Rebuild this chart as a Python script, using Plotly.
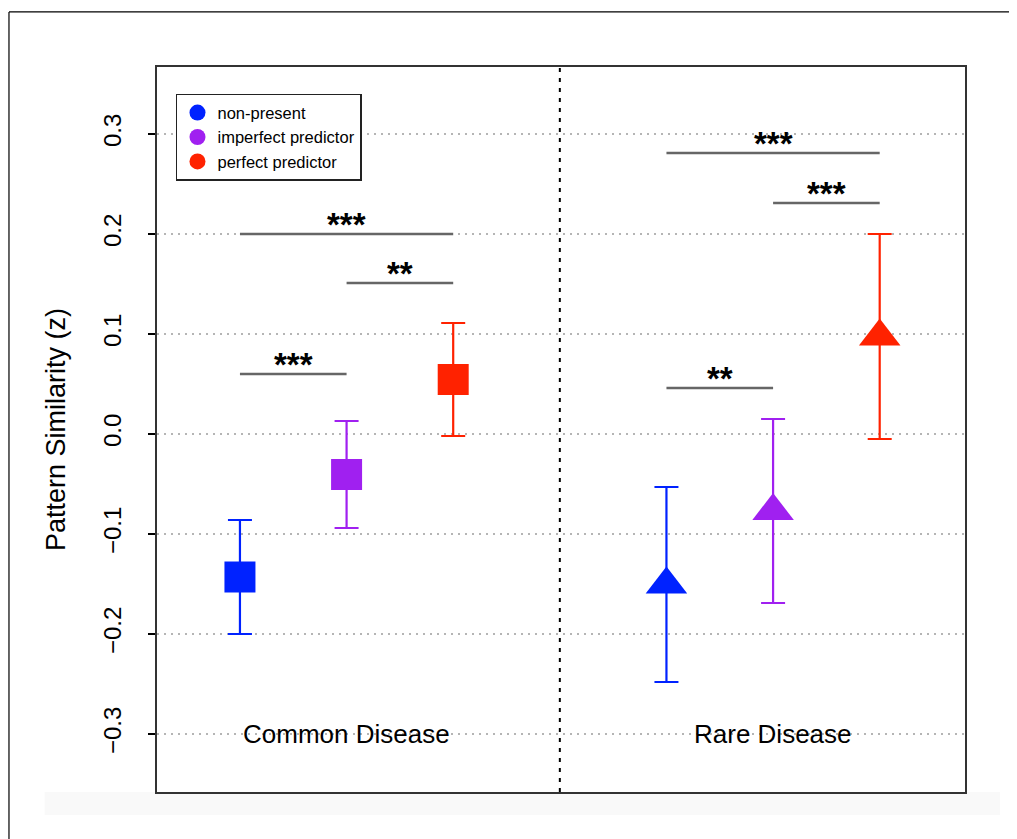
import plotly.graph_objects as go

# ---- data ----
groups = ["non-present", "imperfect predictor", "perfect predictor"]
colors = ["#0022FF", "#A020F0", "#FF2200"]

common_x = [1, 2, 3]
common_mean = [-0.143, -0.0405, 0.0545]
common_err = [0.057, 0.0535, 0.0565]

rare_x = [5, 6, 7]
rare_mean = [-0.1505, -0.077, 0.0975]
rare_err = [0.0975, 0.092, 0.1025]

divider_x = 4
condition_labels = ["Common Disease", "Rare Disease"]
condition_label_x = [2, 6]
condition_label_y = -0.3

# significance brackets: (x start, x end, y, label)
sig_x0 = [1, 2, 1, 5, 6, 5]
sig_x1 = [2, 3, 3, 6, 7, 7]
sig_y = [0.060, 0.151, 0.200, 0.046, 0.231, 0.281]
sig_label = ["***", "**", "***", "**", "***", "***"]

y_ticks = [-0.3, -0.2, -0.1, 0.0, 0.1, 0.2, 0.3]

FONT = "Liberation Sans, Arial, sans-serif"

fig = go.Figure()

# significance lines
for x0, x1, y in zip(sig_x0, sig_x1, sig_y):
    fig.add_trace(go.Scatter(x=[x0, x1], y=[y, y], mode="lines",
                             line=dict(color="#666666", width=2.5),
                             showlegend=False, hoverinfo="skip"))

# common disease: squares
for i in range(3):
    fig.add_trace(go.Scatter(
        x=[common_x[i]], y=[common_mean[i]], mode="markers",
        marker=dict(symbol="square", size=31, color=colors[i], line=dict(width=0)),
        error_y=dict(type="data", array=[common_err[i]], color=colors[i],
                     thickness=2.2, width=12),
        showlegend=False))

# rare disease: triangles
for i in range(3):
    fig.add_trace(go.Scatter(
        x=[rare_x[i]], y=[rare_mean[i]], mode="markers",
        marker=dict(symbol="triangle-up", size=36, color=colors[i], line=dict(width=0)),
        error_y=dict(type="data", array=[rare_err[i]], color=colors[i],
                     thickness=2.2, width=12),
        showlegend=False))

# legend entries (circles)
for i in range(3):
    fig.add_trace(go.Scatter(
        x=[None], y=[None], mode="markers", name=groups[i],
        marker=dict(symbol="circle", size=16, color=colors[i]),
        showlegend=True))

annotations = []
for x0, x1, y, lab in zip(sig_x0, sig_x1, sig_y, sig_label):
    annotations.append(dict(x=(x0 + x1) / 2, y=y, xref="x", yref="y",
                            text="<b>" + lab + "</b>", showarrow=False, yanchor="bottom",
                            yshift=-11,
                            font=dict(family=FONT, size=33, color="black")))
for lab, x in zip(condition_labels, condition_label_x):
    annotations.append(dict(x=x, y=condition_label_y, xref="x", yref="y",
                            text=lab, showarrow=False, yanchor="middle",
                            font=dict(family=FONT, size=26, color="black")))

shapes = [
    # divider between conditions
    dict(type="line", xref="x", yref="paper", x0=divider_x, x1=divider_x,
         y0=0, y1=1, line=dict(color="black", width=2, dash="4px,6px")),
    # outer frame of the figure
    dict(type="line", xref="paper", yref="paper", x0=-0.1832, x1=1.064,
         y0=1.0759, y1=1.0759, line=dict(color="black", width=1.2)),
    dict(type="line", xref="paper", yref="paper", x0=-0.1832, x1=-0.1832,
         y0=1.0759, y1=-0.1, line=dict(color="black", width=1.2)),
    # faint band below plot
    dict(type="rect", xref="paper", yref="paper", x0=-0.139, x1=1.0433,
         y0=-0.0317, y1=0, fillcolor="#f9f9f9", line=dict(width=0), layer="below"),
]

fig.update_layout(
    width=1009, height=831,
    margin=dict(l=149, r=52, t=59, b=47),
    paper_bgcolor="white", plot_bgcolor="white",
    font=dict(family=FONT, color="black"),
    showlegend=True,
    legend=dict(x=0.0235, y=0.963, xanchor="left", yanchor="top",
                bordercolor="#222222", borderwidth=1.5, bgcolor="white",
                font=dict(family=FONT, size=16.5, color="black"),
                itemsizing="trace", tracegroupgap=0),
    xaxis=dict(range=[0.222, 7.8], showticklabels=False, ticks="",
               showgrid=False, zeroline=False, showline=True, mirror=True,
               linecolor="#333333", linewidth=2),
    yaxis=dict(range=[-0.358, 0.367], tickvals=y_ticks, tickformat=".1f",
               ticks="outside", ticklen=7, tickwidth=1.5, tickcolor="black",
               tickangle=-90, tickfont=dict(family=FONT, size=24),
               ticklabelstandoff=17,
               showgrid=True, gridcolor="#b5b5b5", gridwidth=1.5, griddash="2px,5px",
               zeroline=False, showline=True, mirror=True,
               linecolor="#333333", linewidth=2,
               title=dict(text="Pattern Similarity (z)", standoff=26,
                          font=dict(family=FONT, size=27))),
    annotations=annotations,
    shapes=shapes,
)

fig.write_html("out.html", config={"displayModeBar": False})
